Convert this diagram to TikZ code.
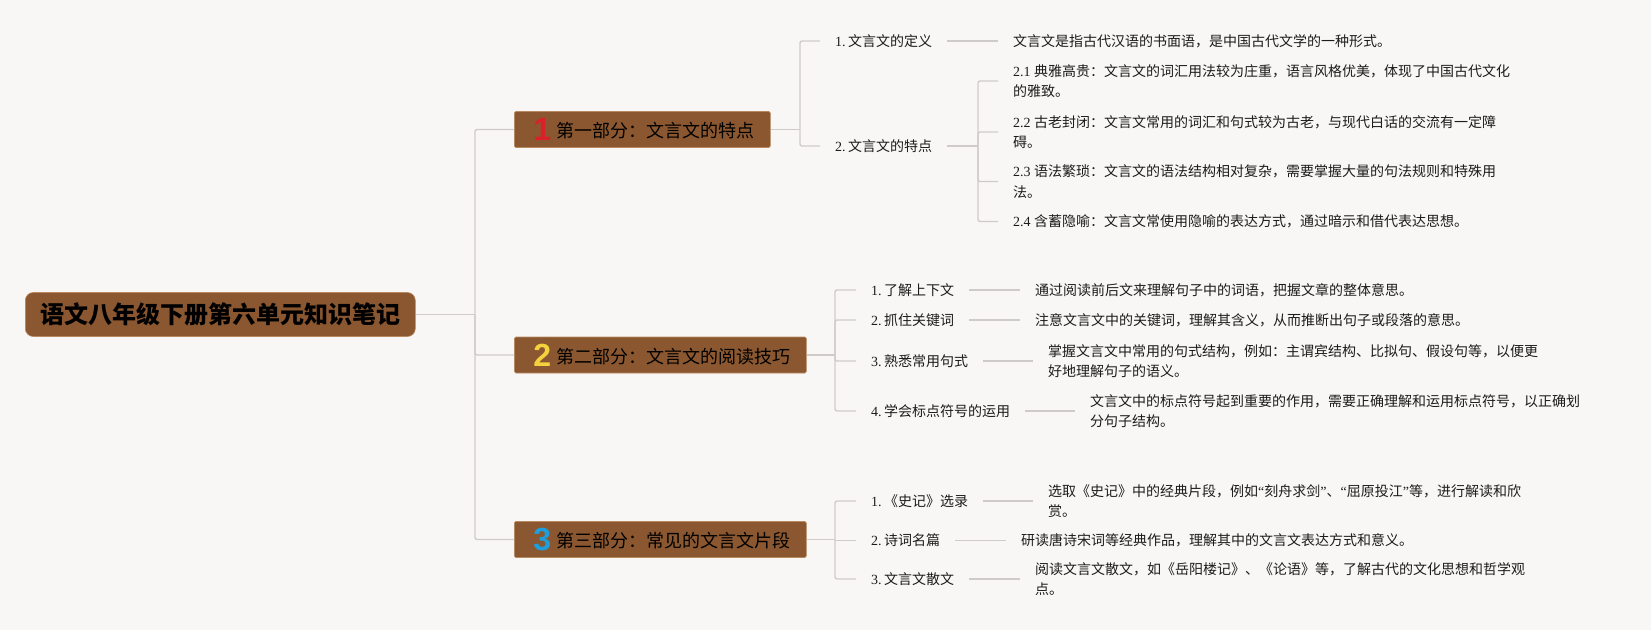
\documentclass[tikz,border=0pt]{standalone}
\usepackage{fontspec}
\setmainfont{Liberation Serif}
\newfontfamily\cjk{Noto Sans CJK SC}
\newfontfamily\lat{Liberation Serif}
\newfontfamily\numfont{Liberation Sans}[BoldFont={Liberation Sans Bold}]
\definecolor{paper}{HTML}{F9F7F5}
\definecolor{bark}{HTML}{8A5730}
\definecolor{barkline}{HTML}{B98A5F}
\definecolor{linkgray}{HTML}{CFCBC8}
\definecolor{inkdark}{HTML}{1C1C1C}
\definecolor{numred}{HTML}{D9202B}
\definecolor{numyellow}{HTML}{F2D33E}
\definecolor{numblue}{HTML}{1E9FDC}
\newcommand{\partnum}[2]{\hspace*{3.5pt}\raisebox{-3pt}{\fontsize{32}{32}\selectfont\numfont\bfseries\textcolor{#1}{#2}}\hspace{5.6pt}}
\tikzset{
rootnode/.style={draw=barkline, line width=0.6pt, fill=bark, rounded corners=8pt, anchor=west, inner xsep=15pt, minimum height=44pt, text=black, font=\fontsize{24}{28}\selectfont\cjk\bfseries},
partnode/.style={draw=barkline, line width=0.6pt, fill=bark, rounded corners=1.5pt, anchor=west, inner xsep=15.6pt, inner ysep=0pt, minimum height=36pt, text=black, font=\fontsize{18}{22}\selectfont\cjk},
subnode/.style={anchor=west, inner xsep=15pt, inner ysep=0pt, text=inkdark, font=\fontsize{14}{20.6}\selectfont\cjk},
textnode/.style={anchor=west, align=left, inner xsep=15pt, inner ysep=0pt, text=inkdark, font=\fontsize{14}{20.6}\selectfont\cjk},
link/.style={draw=linkgray, line width=1.4pt, rounded corners=2pt},
sublink/.style={link, yshift=1pt},
}
\begin{document}
\begin{tikzpicture}[x=1pt,y=-1pt]
\fill[paper] (0,0) rectangle (1651,630);
\useasboundingbox (0,0) rectangle (1651,630);
\node[rootnode] (root) at (25,314.5){语文八年级下册第六单元知识笔记};
\coordinate (hub0) at (475,314.5);
\draw[link](root.east) -- (hub0);
\node[partnode] (part1) at (514,129.5){\partnum{numred}{1}第一部分：文言文的特点};
\node[partnode] (part2) at (514,355){\partnum{numyellow}{2}第二部分：文言文的阅读技巧};
\node[partnode] (part3) at (514,539.5){\partnum{numblue}{3}第三部分：常见的文言文片段};
\draw[link](hub0) |- (part1.west);
\draw[link](hub0) |- (part2.west);
\draw[link](hub0) |- (part3.west);
\coordinate (hub1) at (800,130.5);
\draw[link](part1.east) -- ([yshift=1pt]hub1);
\node[subnode] (sub11) at (820,41){{\lat 1.\,}文言文的定义};
\node[subnode] (sub12) at (820,146){{\lat 2.\,}文言文的特点};
\draw[sublink](hub1) |- (sub11.west);
\draw[sublink](hub1) |- (sub12.west);
\node[textnode] (txt11) at (998,41){文言文是指古代汉语的书面语，是中国古代文学的一种形式。};
\draw[sublink](sub11.east) -- (txt11.west);
\coordinate (hub12) at (978,146);
\draw[sublink](sub12.east) -- (hub12);
\node[textnode] (txt121) at (998,81){{\lat 2.1 }典雅高贵：文言文的词汇用法较为庄重，语言风格优美，体现了中国古代文化\\的雅致。};
\node[textnode] (txt122) at (998,132){{\lat 2.2 }古老封闭：文言文常用的词汇和句式较为古老，与现代白话的交流有一定障\\碍。};
\node[textnode] (txt123) at (998,181.5){{\lat 2.3 }语法繁琐：文言文的语法结构相对复杂，需要掌握大量的句法规则和特殊用\\法。};
\node[textnode] (txt124) at (998,221.5){{\lat 2.4 }含蓄隐喻：文言文常使用隐喻的表达方式，通过暗示和借代表达思想。};
\draw[sublink](hub12) |- (txt121.west);
\draw[sublink](hub12) |- (txt122.west);
\draw[sublink](hub12) |- (txt123.west);
\draw[sublink](hub12) |- (txt124.west);
\coordinate (hub2) at (835,356);
\draw[link](part2.east) -- ([yshift=1pt]hub2);
\node[subnode] (sub21) at (856,290){{\lat 1.\,}了解上下文};
\node[subnode] (sub22) at (856,320){{\lat 2.\,}抓住关键词};
\node[subnode] (sub23) at (856,361){{\lat 3.\,}熟悉常用句式};
\node[subnode] (sub24) at (856,411){{\lat 4.\,}学会标点符号的运用};
\draw[sublink](hub2) |- (sub21.west);
\draw[sublink](hub2) |- (sub22.west);
\draw[sublink](hub2) |- (sub23.west);
\draw[sublink](hub2) |- (sub24.west);
\node[textnode] (txt21) at (1020,290){通过阅读前后文来理解句子中的词语，把握文章的整体意思。};
\node[textnode] (txt22) at (1020,320){注意文言文中的关键词，理解其含义，从而推断出句子或段落的意思。};
\node[textnode] (txt23) at (1033,361){掌握文言文中常用的句式结构，例如：主谓宾结构、比拟句、假设句等，以便更\\好地理解句子的语义。};
\node[textnode] (txt24) at (1075,411){文言文中的标点符号起到重要的作用，需要正确理解和运用标点符号，以正确划\\分句子结构。};
\draw[sublink](sub21.east) -- (txt21.west);
\draw[sublink](sub22.east) -- (txt22.west);
\draw[sublink](sub23.east) -- (txt23.west);
\draw[sublink](sub24.east) -- (txt24.west);
\coordinate (hub3) at (835,540.5);
\draw[link](part3.east) -- ([yshift=1pt]hub3);
\node[subnode] (sub31) at (856,501){{\lat 1.\,}《史记》选录};
\node[subnode] (sub32) at (856,540.5){{\lat 2.\,}诗词名篇};
\node[subnode] (sub33) at (856,579){{\lat 3.\,}文言文散文};
\draw[sublink](hub3) |- (sub31.west);
\draw[sublink](hub3) -- (sub32.west);
\draw[sublink](hub3) |- (sub33.west);
\node[textnode] (txt31) at (1033,501){选取《史记》中的经典片段，例如{\lat “}刻舟求剑{\lat ”}、{\lat “}屈原投江{\lat ”}等，进行解读和欣\\赏。};
\node[textnode] (txt32) at (1006,540.5){研读唐诗宋词等经典作品，理解其中的文言文表达方式和意义。};
\node[textnode] (txt33) at (1020,579){阅读文言文散文，如《岳阳楼记》、《论语》等，了解古代的文化思想和哲学观\\点。};
\draw[sublink](sub31.east) -- (txt31.west);
\draw[sublink](sub32.east) -- (txt32.west);
\draw[sublink](sub33.east) -- (txt33.west);
\end{tikzpicture}
\end{document}
